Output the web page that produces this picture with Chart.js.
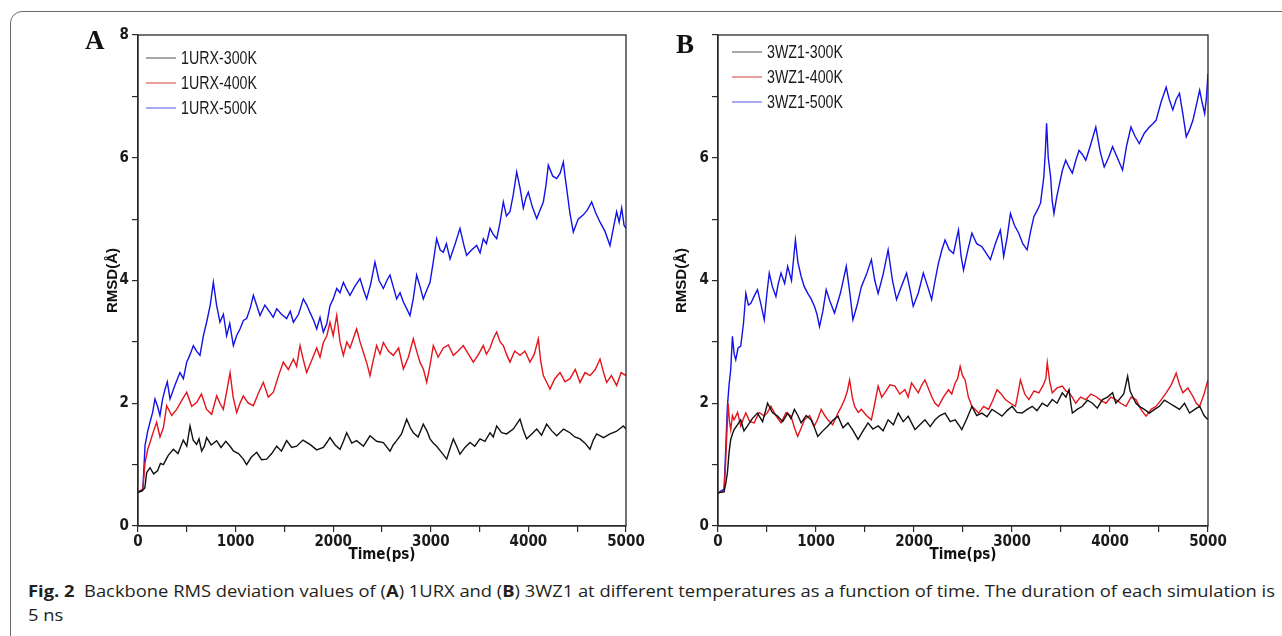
<!DOCTYPE html>
<html><head><meta charset="utf-8">
<script src="https://cdn.jsdelivr.net/npm/chart.js@4.4.1/dist/chart.umd.min.js"></script>
<style>
html,body{margin:0;padding:0;background:#fff;width:1282px;height:636px;overflow:hidden;position:relative;}
#card{position:absolute;left:10px;top:11px;width:1400px;height:800px;border:1px solid #6a6a6a;border-radius:12px;box-sizing:border-box;}
canvas{position:absolute;top:0;}
#cA{left:0px}
#cB{left:580px}
.pl{position:absolute;font-family:'Liberation Serif','DejaVu Serif',serif;font-weight:bold;font-size:27px;line-height:1;color:#111;}
#cap{position:absolute;left:28px;top:579px;font-family:'Open Sans','Noto Sans',sans-serif;font-size:16px;line-height:24px;color:#231f20;white-space:nowrap;transform-origin:0 0;}
#cap b{font-weight:700;}
</style>
</head><body>
<div id="card"></div>
<canvas id="cA" width="660" height="575"></canvas>
<canvas id="cB" width="660" height="575"></canvas>
<div class="pl" style="left:85px;top:27px;">A</div>
<div class="pl" style="left:676px;top:31px;">B</div>
<div id="cap"><span id="l1"><b>Fig. 2</b>&nbsp; Backbone RMS deviation values of (<b>A</b>) 1URX and (<b>B</b>) 3WZ1 at different temperatures as a function of time. The duration of each simulation is</span><br><span>5 ns</span></div>
<script>
// ---------- Panel A : 1URX ----------
const seriesNamesA = ['1URX-300K','1URX-400K','1URX-500K'];
const tA300 = [0,40,70,89,123,160,200,230,260,310,362,410,464,500,533,565,601,625,652,680,703,750,806,850,900,943,980,1030,1079,1113,1160,1216,1265,1318,1370,1421,1470,1523,1575,1626,1690,1762,1830,1899,1935,1967,2020,2070,2105,2138,2190,2240,2310,2377,2445,2514,2582,2615,2650,2700,2753,2790,2821,2870,2923,2960,2992,3025,3060,3110,3163,3195,3231,3265,3299,3350,3402,3450,3504,3555,3607,3640,3675,3725,3777,3845,3914,3950,3982,4035,4085,4135,4187,4240,4290,4360,4426,4475,4529,4580,4631,4665,4699,4770,4836,4900,4973,5000];
const vA300 = [0.55,0.57,0.62,0.87,0.95,0.85,0.9,1.02,1.0,1.15,1.25,1.18,1.4,1.3,1.63,1.4,1.33,1.42,1.22,1.3,1.44,1.32,1.39,1.28,1.38,1.3,1.22,1.18,1.09,1.0,1.12,1.2,1.08,1.09,1.18,1.3,1.22,1.39,1.28,1.3,1.4,1.33,1.24,1.28,1.36,1.44,1.32,1.25,1.38,1.52,1.35,1.39,1.3,1.47,1.38,1.36,1.22,1.32,1.39,1.5,1.74,1.6,1.52,1.45,1.66,1.55,1.42,1.35,1.3,1.2,1.09,1.25,1.42,1.3,1.17,1.28,1.36,1.3,1.42,1.38,1.52,1.45,1.63,1.52,1.5,1.58,1.74,1.55,1.42,1.5,1.58,1.48,1.66,1.55,1.47,1.58,1.52,1.45,1.42,1.35,1.25,1.4,1.5,1.44,1.5,1.54,1.63,1.58];
const tA400 = [0,50,72,100,123,160,191,225,260,294,345,396,450,499,550,601,650,703,755,806,840,874,910,943,975,1011,1045,1079,1130,1182,1230,1284,1335,1387,1440,1489,1540,1592,1625,1660,1695,1728,1780,1831,1865,1899,1935,1967,2000,2036,2070,2104,2140,2172,2205,2240,2275,2309,2345,2377,2410,2445,2480,2514,2565,2616,2670,2719,2770,2821,2855,2889,2925,2958,2990,3026,3075,3128,3180,3231,3280,3333,3385,3436,3490,3538,3570,3607,3640,3675,3710,3743,3775,3811,3860,3914,3965,4016,4060,4102,4125,4153,4185,4221,4270,4324,4375,4426,4480,4529,4580,4631,4685,4734,4770,4802,4850,4904,4950,5000];
const vA400 = [0.55,0.6,1.03,1.25,1.36,1.55,1.69,1.45,1.6,1.96,1.8,1.9,2.05,2.18,1.95,2.01,2.15,1.9,1.82,2.12,2.0,1.9,2.2,2.5,2.1,1.85,2.0,2.12,2.0,1.96,2.15,2.34,2.1,2.18,2.45,2.67,2.55,2.72,2.6,2.94,2.7,2.5,2.7,2.9,2.75,2.99,3.1,3.32,3.1,3.43,3.0,2.78,3.0,2.9,3.05,3.21,3.0,2.83,2.65,2.45,2.7,2.94,2.8,2.99,2.85,2.78,2.9,2.56,2.75,3.05,2.85,2.67,2.55,2.34,2.6,2.94,2.75,2.9,2.95,2.78,2.85,2.94,2.8,2.67,2.8,2.94,2.8,2.9,3.05,3.16,3.0,2.94,2.8,2.67,2.85,2.78,2.85,2.67,2.8,3.05,2.7,2.45,2.35,2.23,2.4,2.5,2.35,2.4,2.55,2.34,2.5,2.45,2.55,2.72,2.5,2.34,2.45,2.29,2.5,2.45];
const tA500 = [0,50,72,100,123,150,174,200,225,250,277,300,328,380,430,465,499,535,567,600,635,670,703,740,772,805,840,875,908,940,977,1010,1045,1080,1113,1150,1182,1215,1250,1300,1352,1385,1421,1470,1523,1560,1592,1645,1694,1730,1762,1800,1831,1865,1899,1935,1967,2000,2036,2070,2104,2140,2172,2220,2275,2310,2343,2385,2428,2470,2514,2550,2582,2615,2650,2685,2719,2750,2787,2820,2855,2890,2923,2960,2992,3025,3060,3095,3128,3160,3197,3250,3299,3335,3367,3420,3470,3505,3538,3570,3607,3640,3675,3710,3743,3775,3811,3845,3880,3915,3948,3975,3999,4040,4085,4120,4153,4180,4204,4250,4290,4325,4358,4375,4392,4425,4460,4510,4563,4605,4648,4690,4734,4785,4836,4870,4904,4930,4956,4980,5000];
const vA500 = [0.55,0.6,1.31,1.55,1.69,1.85,2.07,1.95,1.8,2.05,2.23,2.35,2.07,2.3,2.5,2.4,2.67,2.8,2.94,2.85,2.78,3.1,3.32,3.6,3.97,3.6,3.32,3.45,3.1,3.3,2.94,3.1,3.21,3.35,3.38,3.55,3.76,3.6,3.43,3.6,3.48,3.4,3.54,3.45,3.38,3.5,3.32,3.45,3.7,3.6,3.48,3.35,3.21,3.4,3.16,3.3,3.59,3.7,3.87,3.8,3.97,3.85,3.76,3.9,4.03,3.85,3.7,3.95,4.3,4.0,3.87,4.0,4.09,3.9,3.7,3.8,3.65,3.55,3.43,3.7,4.09,3.9,3.7,3.85,3.97,4.3,4.68,4.5,4.46,4.6,4.35,4.6,4.85,4.6,4.41,4.5,4.57,4.45,4.68,4.6,4.85,4.75,4.68,4.95,5.28,5.05,5.12,5.4,5.77,5.5,5.18,5.35,5.44,5.2,5.01,5.15,5.28,5.55,5.88,5.7,5.66,5.75,5.93,5.7,5.5,5.1,4.79,5.0,5.07,5.15,5.28,5.1,4.95,4.8,4.57,4.85,5.12,4.95,5.18,4.9,4.85];

// ---------- Panel B : 3WZ1 ----------
const seriesNamesB = ['3WZ1-300K','3WZ1-400K','3WZ1-500K'];
const tB300 = [0,62,80,96,113,130,147,164,200,232,265,301,350,403,455,506,555,608,660,711,745,779,815,848,900,950,985,1018,1070,1121,1170,1224,1275,1326,1380,1429,1480,1531,1580,1634,1685,1736,1790,1839,1890,1941,1975,2010,2060,2112,2165,2215,2265,2317,2370,2420,2455,2488,2540,2591,2640,2693,2745,2796,2845,2898,2950,3001,3050,3103,3155,3206,3255,3308,3360,3411,3460,3513,3550,3582,3600,3616,3665,3718,3770,3821,3870,3923,3975,4026,4060,4094,4140,4180,4205,4231,4265,4299,4350,4402,4455,4504,4555,4607,4660,4709,4760,4812,4865,4915,4960,5000];
const vB300 = [0.54,0.56,0.7,0.87,1.2,1.41,1.5,1.57,1.65,1.73,1.55,1.63,1.75,1.84,1.7,2.0,1.85,1.79,1.7,1.84,1.75,1.9,1.8,1.68,1.8,1.73,1.6,1.46,1.55,1.63,1.72,1.79,1.6,1.68,1.55,1.41,1.55,1.68,1.58,1.63,1.55,1.73,1.65,1.84,1.7,1.79,1.68,1.57,1.65,1.73,1.62,1.73,1.8,1.84,1.7,1.73,1.65,1.57,1.75,1.95,1.8,1.84,1.78,1.9,1.85,1.79,1.88,1.95,1.85,1.84,1.9,1.95,1.88,2.0,1.95,2.06,2.0,2.17,2.1,2.22,2.0,1.84,1.9,1.95,2.05,2.0,1.92,2.06,2.1,2.17,2.0,2.06,2.15,2.44,2.2,2.11,2.0,1.95,1.9,1.84,1.9,1.95,2.05,2.0,1.95,1.9,2.0,1.84,1.9,1.95,1.8,1.73];
const tB400 = [0,62,79,103,117,130,147,164,200,232,260,284,325,369,420,472,505,540,590,643,695,745,780,813,850,882,935,984,1020,1053,1090,1121,1170,1224,1260,1292,1320,1343,1370,1394,1430,1463,1515,1565,1600,1634,1670,1702,1755,1805,1855,1907,1940,1975,2010,2044,2080,2112,2145,2180,2215,2249,2300,2351,2385,2420,2445,2471,2495,2522,2555,2591,2625,2659,2710,2761,2805,2847,2890,2932,2985,3035,3060,3086,3130,3172,3225,3274,3320,3345,3360,3385,3411,3460,3513,3550,3582,3615,3650,3700,3753,3805,3855,3905,3958,4010,4060,4110,4163,4215,4265,4315,4368,4420,4470,4520,4573,4625,4675,4710,4744,4795,4846,4880,4915,4960,5000];
const vB400 = [0.54,0.56,1.08,2.0,1.7,1.57,1.8,1.73,1.85,1.63,1.75,1.84,1.7,1.68,1.85,1.79,1.85,1.95,1.8,1.68,1.85,1.79,1.6,1.46,1.6,1.73,1.8,1.63,1.75,1.9,1.8,1.73,1.65,1.84,1.95,2.06,2.2,2.38,2.1,1.95,1.85,1.9,1.8,1.73,2.0,2.28,2.1,2.17,2.3,2.28,2.15,2.22,2.1,2.33,2.25,2.17,2.3,2.38,2.25,2.11,2.0,1.95,2.1,2.22,2.15,2.33,2.4,2.6,2.45,2.38,2.1,1.95,1.9,1.84,1.95,1.9,2.05,2.22,2.15,2.06,2.0,1.95,2.15,2.38,2.15,2.06,2.2,2.17,2.3,2.4,2.66,2.35,2.17,2.25,2.28,2.2,2.17,2.1,2.0,2.1,2.06,2.15,2.11,2.05,2.0,2.1,2.06,2.0,1.95,2.1,2.06,1.9,1.79,1.9,1.95,2.05,2.17,2.3,2.49,2.3,2.17,2.25,2.11,2.0,1.95,2.15,2.38];
const tB500 = [0,62,80,96,113,130,147,165,181,205,232,260,284,310,335,370,403,440,472,500,523,555,591,615,643,680,711,750,790,815,848,880,916,950,984,1010,1036,1070,1104,1145,1189,1250,1309,1345,1377,1420,1463,1515,1565,1600,1634,1685,1736,1780,1822,1870,1924,1960,1992,2045,2095,2140,2180,2215,2249,2285,2317,2360,2403,2430,2454,2480,2505,2550,2591,2640,2693,2735,2779,2830,2881,2900,2915,2950,2984,3025,3069,3110,3154,3190,3223,3260,3291,3310,3325,3340,3353,3370,3394,3410,3428,3455,3479,3515,3548,3580,3616,3650,3684,3720,3753,3800,3855,3900,3941,3985,4026,4075,4128,4170,4214,4255,4299,4350,4402,4435,4470,4520,4573,4605,4641,4675,4709,4745,4778,4810,4846,4880,4915,4940,4966,4985,5000];
const vB500 = [0.54,0.6,1.3,1.95,2.3,2.55,3.09,2.8,2.71,2.9,2.93,3.3,3.79,3.6,3.63,3.75,3.85,3.6,3.36,3.8,4.12,3.9,3.74,3.95,4.12,3.95,4.23,4.0,4.66,4.3,4.07,3.9,3.79,3.7,3.58,3.45,3.25,3.5,3.85,3.65,3.47,3.8,4.23,3.8,3.36,3.6,3.9,4.1,4.34,4.0,3.79,4.1,4.5,4.0,3.69,3.9,4.12,3.85,3.58,3.8,4.12,3.9,3.69,4.0,4.28,4.5,4.66,4.5,4.44,4.65,4.82,4.4,4.17,4.5,4.77,4.6,4.55,4.45,4.34,4.6,4.82,4.6,4.39,4.7,5.09,4.9,4.77,4.6,4.5,4.8,5.04,5.15,5.26,5.5,5.69,6.1,6.56,6.0,5.69,5.3,5.09,5.35,5.53,5.8,5.96,5.85,5.75,5.95,6.12,6.05,5.96,6.2,6.5,6.1,5.85,6.0,6.18,6.0,5.8,6.2,6.5,6.35,6.23,6.4,6.5,6.55,6.61,6.9,7.15,6.95,6.78,6.95,7.05,6.7,6.34,6.45,6.61,6.85,7.1,6.9,6.72,7.0,7.37];

// axis tick labels
const xTicks = [0,1000,2000,3000,4000,5000];
const yTicksA = [0,2,4,6,8];
const yTicksB = [0,2,4,6];

const lineColors = ['#111111','#e3141c','#1212e6'];
const legendColors = ['#777777','#d86a6a','#7a7aee'];

function pts(t,v){ return t.map((x,i)=>({x:x,y:v[i]})); }

function hasFont(f){
  const c = document.createElement('canvas').getContext('2d');
  const s = '1URX-300K 1000 Time(ps)';
  c.font = '20px monospace'; const a = c.measureText(s).width;
  c.font = "20px '" + f + "', monospace"; const b = c.measureText(s).width;
  return Math.abs(a-b) > 0.5;
}
let tickFam = "'Liberation Sans',Arial,sans-serif";
if (hasFont('Liberation Sans Narrow')) tickFam = "'Liberation Sans Narrow','Liberation Sans',sans-serif";
else if (hasFont('DejaVu Sans Condensed')) tickFam = "'DejaVu Sans Condensed','Liberation Sans',sans-serif";
const plainFam = "'Liberation Sans',Arial,sans-serif";

const legendPlugin = {
  id:'inlegend',
  afterDraw(chart, args, o){
    const ctx = chart.ctx; ctx.save();
    chart.data.datasets.forEach((ds,i)=>{
      const y = o.y0 + i*o.dy;
      ctx.strokeStyle = legendColors[i]; ctx.lineWidth = 1.3;
      ctx.beginPath(); ctx.moveTo(o.x0,y); ctx.lineTo(o.x0+o.len,y); ctx.stroke();
      ctx.fillStyle = '#1a1a1a'; ctx.font = "18px " + plainFam; ctx.textBaseline='middle'; ctx.textAlign='left';
      const w = ctx.measureText(ds.label).width;
      const sx = Math.min(1, o.tw / w);
      ctx.save();
      ctx.translate(o.x0+o.len+5, y+1);
      ctx.scale(sx, 1);
      ctx.fillText(ds.label, 0, 0);
      ctx.restore();
    });
    ctx.restore();
  }
};
const framePlugin = {
  id:'frame',
  afterDatasetsDraw(chart){
    const a = chart.chartArea, ctx = chart.ctx; ctx.save();
    ctx.strokeStyle='#2a2a2a'; ctx.lineWidth=1.3;
    ctx.strokeRect(a.left, a.top, a.right-a.left, a.bottom-a.top);
    ctx.restore();
  }
};

function makeChart(id, names, T, V, labelTicks, yTitlePad, rightPad, legendPos){
  const datasets = names.map((n,i)=>({label:n, data:pts(T[i],V[i]), borderColor:lineColors[i], backgroundColor:lineColors[i], borderWidth:1.4, pointRadius:0, tension:0, fill:false}));
  return new Chart(document.getElementById(id), {
    type:'line',
    data:{datasets},
    options:{
      responsive:false, animation:false, devicePixelRatio:1,
      layout:{padding:{left:0,right:rightPad,top:35,bottom:0}},
      plugins:{legend:{display:false}, tooltip:{enabled:false}, inlegend:legendPos},
      scales:{
        x:{type:'linear', min:0, max:5000,
           ticks:{stepSize:500, autoSkip:false, maxRotation:0, padding:1, color:'#1a1a1a', font:{family:tickFam, size:15, weight:'bold'},
                  callback:(v)=> xTicks.includes(v) ? String(v) : ''},
           grid:{drawOnChartArea:false, drawTicks:true, tickLength:6, color:'#2a2a2a', lineWidth:1.2},
           border:{display:true, color:'#2a2a2a', width:1.3},
           title:{display:true, text:'Time(ps)', color:'#111', font:{family:tickFam, size:15, weight:'bold'}, padding:{top:0,bottom:11}},
           afterFit:(s)=>{ s.height = 49; }
        },
        y:{type:'linear', min:0, max:8,
           ticks:{stepSize:1, autoSkip:false, padding:3, color:'#1a1a1a', font:{family:tickFam, size:15, weight:'bold'},
                  callback:(v)=> labelTicks.includes(v) ? String(v) : ''},
           grid:{drawOnChartArea:false, drawTicks:true, tickLength:6, color:'#2a2a2a', lineWidth:1.2},
           border:{display:true, color:'#2a2a2a', width:1.3},
           title:{display:true, text:'RMSD(Å)', color:'#111', font:{family:plainFam, size:15, weight:'bold'}, padding:{top:yTitlePad,bottom:0}},
           afterFit:(s)=>{ s.width = 138; }
        }
      }
    },
    plugins:[legendPlugin, framePlugin]
  });
}

makeChart('cA', seriesNamesA, [tA300,tA400,tA500], [vA300,vA400,vA500], yTicksA, 104, 34, {x0:146,len:30,y0:58,dy:25,tw:76});
makeChart('cB', seriesNamesB, [tB300,tB400,tB500], [vB300,vB400,vB500], yTicksB, 93, 32, {x0:152,len:30,y0:52,dy:25,tw:76});

// fit caption line width to reference
(function(){
  const cap = document.getElementById('cap');
  const l1 = document.getElementById('l1');
  const w = l1.getBoundingClientRect().width;
  const target = 1247;
  cap.style.transform = 'scaleX(' + (target / w) + ')';
})();
</script>
</body></html>
